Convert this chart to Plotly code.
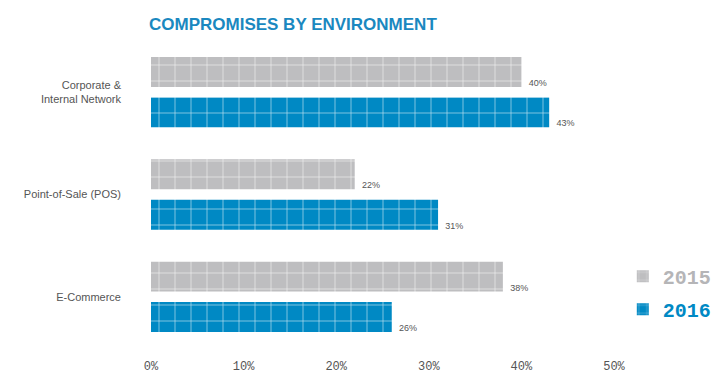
import plotly.graph_objects as go

categories = ["Corporate &<br>Internal Network", "Point-of-Sale (POS)", "E-Commerce"]
years = ["2015", "2016"]
values_2015 = [40, 22, 38]
values_2016 = [43, 31, 26]
tick_values = [0, 10, 20, 30, 40, 50]
tick_labels = ["0%", "10%", "20%", "30%", "40%", "50%"]

GRAY = "#bebec0"
BLUE = "#0089c4"
LEG_GRAY = "#b5b5b7"
TITLE_BLUE = "#1a88c0"

# The page body has an 8px margin, so the figure is sized to fit the visible window.
W, H = 719, 380

fig = go.Figure()
series = [("2015", values_2015, GRAY, LEG_GRAY), ("2016", values_2016, BLUE, BLUE)]
for name, vals, col, legcol in series:
    fig.add_trace(go.Bar(
        y=categories, x=vals, orientation="h",
        name=f"<span style='color:{legcol}'><b>{name}</b></span>",
        legendgroup=name, offsetgroup=name,
        marker=dict(color=col, line=dict(width=0),
                    pattern=dict(shape="+", fgcolor="white", fgopacity=0.75,
                                 size=16, solidity=0.08)),
        hoverinfo="x+y",
    ))
for name, vals, col, legcol in series:
    fig.add_trace(go.Scatter(
        y=categories, x=vals, orientation="h", mode="markers+text",
        offsetgroup=name, legendgroup=name, showlegend=False,
        marker=dict(size=10, color="rgba(0,0,0,0)"),
        text=[f"{v}%" for v in vals], textposition="bottom right",
        textfont=dict(family="Liberation Sans, Arial", size=9, color="#555555"),
        cliponaxis=False, hoverinfo="skip",
    ))

fig.update_layout(
    width=W, height=H,
    margin=dict(l=143, r=113, t=33, b=40, autoexpand=False),
    paper_bgcolor="white", plot_bgcolor="white",
    barmode="group", bargap=0.21, bargroupgap=0.26,
    scattermode="group", scattergap=0.21,
    title=dict(text="<b>COMPROMISES BY ENVIRONMENT</b>",
               font=dict(family="Liberation Sans, Arial", size=17, color=TITLE_BLUE),
               xref="container", x=141/W, xanchor="left",
               yref="container", y=1-16/H, yanchor="middle"),
    xaxis=dict(range=[0, 50], tickvals=tick_values, ticktext=tick_labels,
               showgrid=False, zeroline=False, showline=False, automargin=False,
               ticks="outside", ticklen=7, tickcolor="rgba(0,0,0,0)",
               tickfont=dict(family="Liberation Mono, Courier New, monospace",
                             size=12, color="#555555")),
    yaxis=dict(autorange="reversed", showgrid=False, zeroline=False, showline=False,
               ticks="", ticklabelstandoff=29, automargin=False,
               tickfont=dict(family="Liberation Sans, Arial", size=11, color="#555555")),
    legend=dict(x=1.019, y=0.18, xanchor="left", yanchor="middle",
                font=dict(family="Liberation Mono, Courier New, monospace", size=20),
                traceorder="grouped", tracegroupgap=4,
                itemclick=False, itemdoubleclick=False,
                bgcolor="rgba(0,0,0,0)"),
    showlegend=True,
)

fig.write_html("out.html")
